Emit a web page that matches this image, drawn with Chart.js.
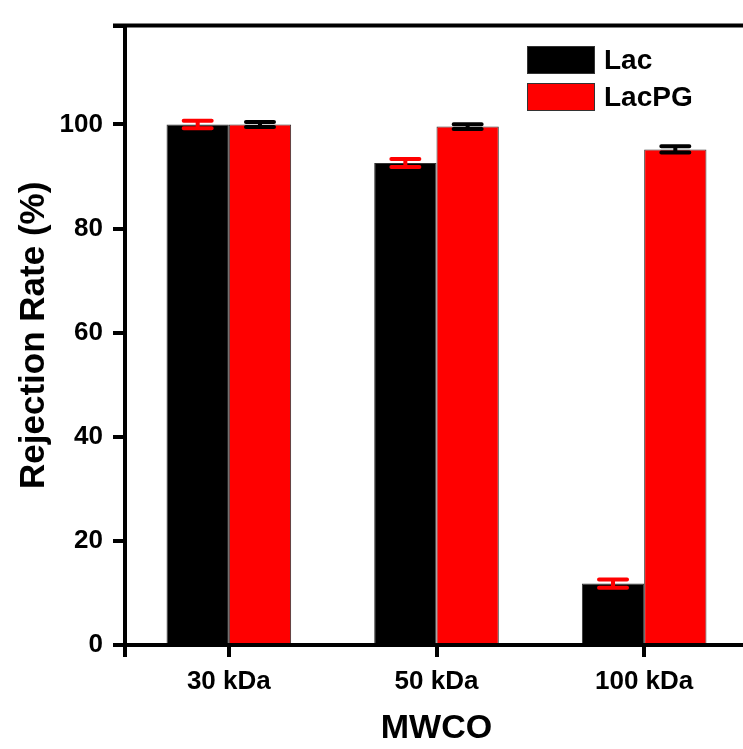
<!DOCTYPE html>
<html>
<head>
<meta charset="utf-8">
<script src="https://cdn.jsdelivr.net/npm/chart.js@4/dist/chart.umd.min.js"></script>
<style>
  html, body { margin: 0; padding: 0; background: #fff; overflow: hidden; }
  #wrap { position: relative; width: 760px; height: 749px; }
  #legend { position: absolute; left: 527px; top: 46px; font-family: "Liberation Sans", Arial, sans-serif; font-weight: bold; font-size: 28px; }
  .item { display: flex; align-items: center; height: 27px; margin-bottom: 10px; }
  .box { width: 66px; height: 26px; border: 1px solid #333; margin-right: 9px; }
</style>
</head>
<body>
<div id="wrap">
  <canvas id="chart" width="760" height="749"></canvas>
  <div id="legend"></div>
</div>
<script>
const categories = ['30 kDa', '50 kDa', '100 kDa'];
const lacValues = [100, 92.6, 11.8];
const lacErrors = [0.7, 0.75, 0.8];
const lacPGValues = [100, 99.6, 95.2];
const lacPGErrors = [0.5, 0.45, 0.6];
const seriesNames = ['Lac', 'LacPG'];
const seriesColors = ['#000000', '#ff0000'];
const errorColors = ['#ff0000', '#000000'];

const fontFamily = '"Liberation Sans", Arial, sans-serif';

// error bars and the frame bits Chart.js does not draw by itself
const errorBars = {
    id: 'errorBars',
    afterDatasetsDraw(chart) {
        const ctx = chart.ctx;
        const y = chart.scales.y;
        chart.data.datasets.forEach((ds, di) => {
            const meta = chart.getDatasetMeta(di);
            meta.data.forEach((bar, i) => {
                const v = ds.data[i];
                const e = ds.errors[i];
                const yTop = y.getPixelForValue(v + e);
                const yBot = y.getPixelForValue(v - e);
                ctx.save();
                ctx.strokeStyle = ds.errorColor;
                ctx.lineWidth = 4;
                ctx.lineCap = 'round';
                ctx.beginPath();
                ctx.moveTo(bar.x, yTop);
                ctx.lineTo(bar.x, yBot);
                ctx.moveTo(bar.x - 14, yTop);
                ctx.lineTo(bar.x + 14, yTop);
                ctx.moveTo(bar.x - 14, yBot);
                ctx.lineTo(bar.x + 14, yBot);
                ctx.stroke();
                ctx.restore();
            });
        });
    },
    afterDraw(chart) {
        const ctx = chart.ctx;
        const area = chart.chartArea;
        ctx.save();
        ctx.strokeStyle = '#000';
        ctx.lineWidth = 4;
        ctx.beginPath();
        ctx.moveTo(area.left - 12, area.top);
        ctx.lineTo(area.right + 20, area.top);
        ctx.moveTo(area.left, area.bottom);
        ctx.lineTo(area.left, area.bottom + 12);
        ctx.stroke();
        ctx.restore();
    }
};

const chart = new Chart(document.getElementById('chart'), {
    type: 'bar',
    data: {
        labels: categories,
        datasets: [
            {
                label: seriesNames[0],
                data: lacValues,
                errors: lacErrors,
                errorColor: errorColors[0],
                backgroundColor: seriesColors[0],
                borderColor: '#333',
                borderWidth: 1
            },
            {
                label: seriesNames[1],
                data: lacPGValues,
                errors: lacPGErrors,
                errorColor: errorColors[1],
                backgroundColor: seriesColors[1],
                borderColor: '#333',
                borderWidth: 1
            }
        ]
    },
    options: {
        responsive: false,
        animation: false,
        layout: { padding: { top: 25, right: 12, left: 0, bottom: 0 } },
        datasets: { bar: { categoryPercentage: 0.6, barPercentage: 1.0 } },
        scales: {
            x: {
                afterFit(scale) { scale.height = 104; },
                grid: { offset: false, drawOnChartArea: false, drawTicks: true, tickLength: 12, color: '#000', lineWidth: 4 },
                border: { display: true, color: '#000', width: 4 },
                ticks: { color: '#000', padding: 9, font: { family: fontFamily, size: 26, weight: 'bold' } },
                title: { display: true, text: 'MWCO', color: '#000', padding: { top: 0, bottom: 0 }, font: { family: fontFamily, size: 34, weight: 'bold' } }
            },
            y: {
                min: 0,
                max: 119,
                afterFit(scale) { scale.width = 125; },
                grid: { drawOnChartArea: false, drawTicks: true, tickLength: 12, color: '#000', lineWidth: 4 },
                border: { display: true, color: '#000', width: 4 },
                ticks: {
                    stepSize: 20,
                    color: '#000',
                    padding: 10,
                    font: { family: fontFamily, size: 26, weight: 'bold' },
                    callback: (v) => (v > 100 ? '' : v)
                },
                title: { display: true, text: 'Rejection Rate (%)', color: '#000', padding: { top: 13, bottom: 0 }, font: { family: fontFamily, size: 35, weight: 'bold' } }
            }
        },
        plugins: {
            legend: { display: false },
            tooltip: { enabled: false }
        }
    },
    plugins: [errorBars]
});

// legend as html, built from the datasets
const legendEl = document.getElementById('legend');
chart.data.datasets.forEach((ds) => {
    const item = document.createElement('div');
    item.className = 'item';
    const box = document.createElement('div');
    box.className = 'box';
    box.style.background = ds.backgroundColor;
    const label = document.createElement('span');
    label.textContent = ds.label;
    item.appendChild(box);
    item.appendChild(label);
    legendEl.appendChild(item);
});
</script>
</body>
</html>
